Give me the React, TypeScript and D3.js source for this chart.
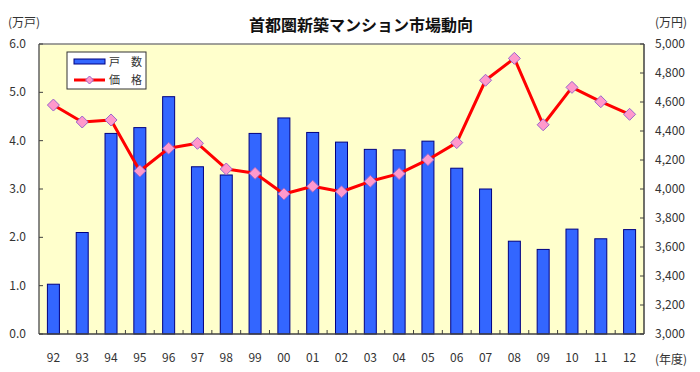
import React from "react";
import * as d3 from "d3";

const years = ["92","93","94","95","96","97","98","99","00","01","02","03","04","05","06","07","08","09","10","11","12"];
const units = [1.03,2.1,4.15,4.27,4.91,3.46,3.29,4.15,4.47,4.17,3.97,3.82,3.81,3.99,3.43,3.0,1.92,1.75,2.17,1.97,2.16];
const prices = [4579,4462,4476,4124,4281,4315,4138,4108,3966,4019,3981,4053,4106,4202,4320,4750,4901,4443,4701,4602,4515];
const leftTicks = [0,1,2,3,4,5,6];
const rightTicks = [3000,3200,3400,3600,3800,4000,4200,4400,4600,4800,5000];

const W = 700, H = 372;
const L = 39, R = 644, T = 44, B = 334;
const font = "'Noto Sans CJK JP', 'Noto Sans', sans-serif";

export default function App() {
  const xb = d3.scaleBand<string>().domain(years).range([L, R]);
  const yL = d3.scaleLinear().domain([0, 6]).range([B, T]);
  const yR = d3.scaleLinear().domain([3000, 5000]).range([B, T]);
  const line = d3.line<number>().x((_, i) => xb(years[i])! + xb.bandwidth() / 2).y(d => yR(d));
  const fmt = d3.format(",");
  const diamond = (cx: number, cy: number, r: number) => `M${cx},${cy - r}L${cx + r},${cy}L${cx},${cy + r}L${cx - r},${cy}Z`;
  return (
    <svg width={W} height={H} style={{ position: "absolute", left: 0, top: 0, background: "#fff" }} fontFamily={font}>
      <rect x={L} y={T} width={R - L} height={B - T} fill="#FFFFCC" />
      {units.map((v, i) => (
        <rect key={i} x={xb(years[i])! + xb.bandwidth() / 2 - 6} y={yL(v)} width={12} height={B - yL(v)} fill="#3366FF" stroke="#000080" strokeWidth={1} />
      ))}
      <line x1={L} x2={R} y1={T} y2={T} stroke="#808080" strokeWidth={1.5} />
      <line x1={L} x2={L} y1={T} y2={B} stroke="#606060" strokeWidth={1.5} />
      <line x1={R} x2={R} y1={T} y2={B} stroke="#404040" strokeWidth={1.5} />
      <line x1={L} x2={R} y1={B} y2={B} stroke="#404040" strokeWidth={1.5} />
      {leftTicks.map(t => (
        <g key={t}>
          <line x1={L} x2={L + 4} y1={yL(t)} y2={yL(t)} stroke="#404040" />
          <text x={26} y={yL(t) + 4} textAnchor="end" fontSize={12} fill="#333">{t.toFixed(1)}</text>
        </g>
      ))}
      {rightTicks.map(t => (
        <g key={t}>
          <line x1={R - 4} x2={R} y1={yR(t)} y2={yR(t)} stroke="#404040" />
          <text x={655} y={yR(t) + 4} textAnchor="start" fontSize={12} fill="#333">{fmt(t)}</text>
        </g>
      ))}
      {years.map((y, i) => (
        <g key={y}>
          {i > 0 && <line x1={xb(y)!} x2={xb(y)!} y1={B} y2={B - 4} stroke="#404040" />}
          <text x={xb(y)! + xb.bandwidth() / 2} y={362} textAnchor="middle" fontSize={12} fill="#333">{y}</text>
        </g>
      ))}
      <path d={line(prices)!} fill="none" stroke="#FF0000" strokeWidth={3} strokeLinejoin="round" />
      {prices.map((p, i) => (
        <path key={i} d={diamond(xb(years[i])! + xb.bandwidth() / 2, yR(p), 6)} fill="#FF99CC" stroke="#9966CC" strokeWidth={1} />
      ))}
      <text x={361} y={31} textAnchor="middle" fontSize={16} fontWeight="bold" fill="#111">首都圏新築マンション市場動向</text>
      <text x={8} y={27} fontSize={12} fill="#333">(万戸)</text>
      <text x={655} y={27} fontSize={12} fill="#333">(万円)</text>
      <text x={655} y={364} fontSize={12} fill="#333">(年度)</text>
      <g>
        <rect x={67} y={52} width={79} height={37} fill="#fff" stroke="#333" strokeWidth={1} />
        <rect x={74} y={59} width={31} height={5} fill="#3366FF" stroke="#000080" strokeWidth={1} />
        <text x={109} y={66} fontSize={11} fill="#333">戸　数</text>
        <line x1={74} x2={105} y1={80} y2={80} stroke="#FF0000" strokeWidth={3} />
        <path d={diamond(89.5, 80, 4)} fill="#FF99CC" stroke="#9966CC" strokeWidth={1} />
        <text x={109} y={84} fontSize={11} fill="#333">価　格</text>
      </g>
    </svg>
  );
}
